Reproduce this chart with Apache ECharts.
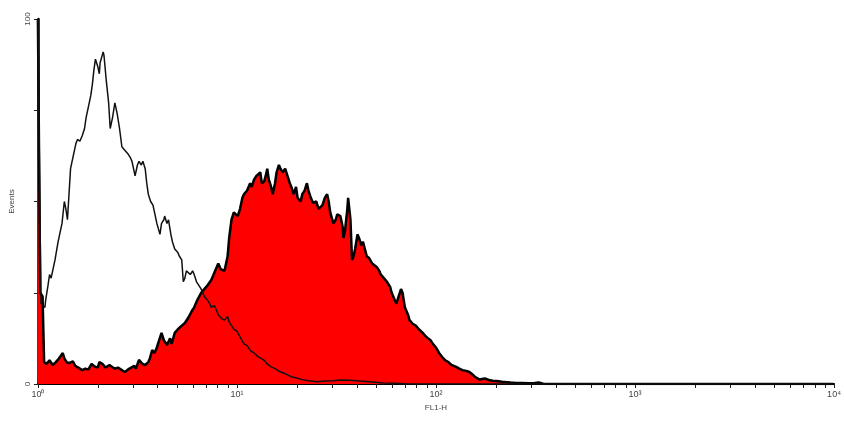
<!DOCTYPE html>
<html>
<head>
<meta charset="utf-8">
<script src="https://cdn.jsdelivr.net/npm/echarts@6/dist/echarts.min.js"></script>
<style>
  html, body { margin: 0; padding: 0; background: #fff; }
  #chart { width: 844px; height: 421px; }
</style>
</head>
<body>
<div id="chart"></div>
<script>
// FL1-H histogram, 1024 channels over 4 decades (256 channels / decade)
var decadeLabels = ['10\u2070', '10\u00b9', '10\u00b2', '10\u00b3', '10\u2074'];
var yTicks = [0, 25, 50, 75, 100];

// stained sample (red, filled)
var stainedCh = [0, 3, 6, 8, 11, 15, 19, 23, 27, 29, 32, 34, 37, 40, 45, 48, 52, 57, 61, 65, 69, 73, 77, 79, 83, 87, 92, 96, 99, 103,
  108, 112, 116, 120, 124, 126, 130, 134, 138, 142, 144, 147, 150, 153, 156, 159, 162, 166, 170, 172, 176, 180, 185, 189, 193, 198, 201, 205, 210, 214,
  218, 223, 226, 228, 232, 235, 237, 240, 244, 246, 249, 252, 257, 260, 263, 265, 269, 273, 275, 278, 281, 283, 286, 288, 291, 293, 295, 297, 300, 302,
  305, 307, 310, 312, 315, 318, 321, 324, 326, 329, 332, 334, 338, 340, 343, 346, 348, 351, 354, 358, 361, 363, 366, 369, 372, 374, 376, 380, 383, 385,
  389, 392, 393, 395, 398, 399, 402, 404, 406, 408, 411, 413, 416, 418, 423, 426, 430, 432, 436, 439, 441, 445, 449, 453, 455, 458, 461, 464, 467, 469,
  472, 476, 478, 482, 486, 490, 492, 495, 499, 502, 505, 508, 512, 516, 520, 524, 528, 532, 538, 542, 546, 551, 555, 559, 562, 568, 571, 575, 580, 585,
  590, 597, 603, 608, 615, 622, 631, 639, 644, 650, 657, 1023];
var stainedCount = [100, 25, 24, 6, 5.5, 6.5, 5.2, 6, 7, 6.5, 8.5, 7, 6, 5.7, 6.2, 5, 4.5, 3.8, 4.2, 4, 5.5, 4.8, 4.5, 6, 5.5, 4.5, 5.2, 4.6, 4.2, 4.5,
  3.8, 3.3, 4, 4.5, 5, 4.2, 6.6, 5.6, 5.2, 6, 7, 9.3, 8.5, 10, 12, 14, 12, 10.7, 12.5, 11, 14, 15, 16, 16.7, 18, 20, 21, 23, 25, 26,
  27, 28.5, 30, 31, 33, 31.5, 32, 31, 35, 40, 45, 47, 46, 48, 51, 52, 53, 55, 54, 56, 57, 56.5, 58, 55, 55.5, 57, 59, 56, 54, 52,
  55, 58, 60, 59, 58, 59, 57, 55, 54, 52, 54, 51, 50, 52, 53, 55, 53, 51, 49.6, 50, 48, 47.7, 49, 51, 52, 50, 47, 44, 45, 46.5,
  46, 43, 40, 42, 48, 51, 45, 34, 35, 37, 41, 40, 38, 39, 35, 34.5, 33, 33.5, 32, 31, 30, 29, 28, 26.6, 25, 23.5, 22, 24, 26, 25,
  21, 19, 17.5, 16.5, 16, 15, 14.5, 14, 13, 12.5, 12, 11, 10, 8.5, 7.4, 6.5, 6, 5.2, 4.7, 4.2, 3.8, 3.6, 3.3, 2.6, 2, 1.2, 1.4, 1.5, 1.1, 0.9,
  0.8, 0.6, 0.5, 0.4, 0.3, 0.3, 0.2, 0.3, 0.4, 0.1, 0, 0];

// control (open outline)
var controlCh = [0, 3, 4, 6, 9, 10, 13, 15, 17, 19, 22, 26, 28, 31, 34, 36, 38, 40, 42, 45, 47, 49, 51, 54, 57, 60, 62, 65, 68, 70,
  72, 74, 77, 79, 80, 84, 85, 88, 91, 93, 96, 99, 102, 105, 108, 112, 116, 119, 121, 123, 125, 128, 130, 133, 135, 138, 140, 142, 145, 148,
  150, 153, 157, 159, 162, 163, 166, 168, 171, 173, 176, 180, 182, 185, 187, 189, 191, 193, 196, 199, 201, 204, 207, 210, 214, 218, 221, 223, 227, 232,
  236, 240, 244, 246, 249, 252, 256, 261, 265, 269, 274, 278, 283, 287, 291, 295, 300, 305, 310, 316, 321, 326, 334, 340, 348, 359, 370, 380, 389, 402,
  414, 427, 444, 459, 478, 1023];
var controlCount = [100, 40, 22, 22, 21, 23, 27, 30, 29, 31, 34, 39, 41, 44, 50, 48, 45, 52, 59, 62, 64, 66, 67, 66.5, 68, 70, 73, 76, 79, 82,
  86, 89, 87, 85, 88, 91, 90, 83, 77, 70, 73, 77, 74, 70, 65, 64, 63, 62, 61, 59, 57, 60, 61, 60, 61, 59, 55, 52, 50, 49,
  47, 44, 41, 44, 45, 46, 44, 45, 41, 39, 37, 36, 35, 34, 28, 29, 31, 31, 30, 31, 30, 28, 27, 26, 24, 23, 22, 21, 21.5, 19,
  18, 17.5, 18.5, 17, 16, 15, 14.5, 12.5, 11, 10.5, 9, 8.5, 7.5, 7, 6.5, 5.5, 4.7, 4.2, 3.5, 3, 2.5, 2, 1.6, 1.2, 0.9, 0.6, 0.8, 0.9, 1.1, 1,
  0.8, 0.6, 0.3, 0.2, 0, 0];

function toPoints(ch, counts) {
  var out = [];
  for (var i = 0; i < ch.length; i++) {
    out.push([Math.pow(10, ch[i] / 256), counts[i]]);
  }
  return out;
}

var minorTicks = [];
for (var d = 0; d < 4; d++) {
  for (var m = 1; m < 10; m++) minorTicks.push(m * Math.pow(10, d));
}
minorTicks.push(10000);
var majorTicks = [1, 10, 100, 1000, 10000];

var chart = echarts.init(document.getElementById('chart'));
var labelFont = { fontFamily: 'Liberation Sans, Arial, sans-serif', fontSize: 8, color: '#444' };

var option = {
  backgroundColor: '#fff',
  animation: false,
  grid: { left: 35, right: 6, top: 19, bottom: 37 },
  xAxis: {
    type: 'log',
    logBase: 10,
    min: 1,
    max: 10000,
    name: 'FL1-H',
    nameLocation: 'middle',
    nameGap: 20,
    nameTextStyle: labelFont,
    axisLine: { lineStyle: { color: '#000', width: 2 } },
    axisTick: { show: true, length: 4, customValues: minorTicks, lineStyle: { color: '#222', width: 1 } },
    axisLabel: {
      customValues: majorTicks,
      margin: 6,
      fontFamily: labelFont.fontFamily, fontSize: 9, color: '#444',
      formatter: function (v) {
        return decadeLabels[Math.round(Math.log10(v))];
      }
    },
    splitLine: { show: false }
  },
  yAxis: {
    type: 'value',
    min: 0,
    max: 100,
    interval: 25,
    name: 'Events',
    nameLocation: 'middle',
    nameGap: 20,
    nameTextStyle: labelFont,
    axisLine: { show: true, lineStyle: { color: '#000', width: 2.5 } },
    axisTick: { show: true, length: 4, lineStyle: { color: '#222' } },
    axisLabel: {
      rotate: 90,
      margin: 6,
      fontFamily: labelFont.fontFamily, fontSize: 8, color: '#444',
      formatter: function (v) {
        return (v === yTicks[0] || v === yTicks[yTicks.length - 1]) ? String(v) : '';
      }
    },
    splitLine: { show: false }
  },
  series: [
    {
      name: 'stained',
      type: 'line',
      data: toPoints(stainedCh, stainedCount),
      showSymbol: false,
      clip: true,
      lineStyle: { color: '#000', width: 2.5 },
      areaStyle: { color: '#ff0000', opacity: 1 },
      z: 2
    },
    {
      name: 'control',
      type: 'line',
      data: toPoints(controlCh, controlCount),
      showSymbol: false,
      clip: true,
      lineStyle: { color: '#111', width: 1.5 },
      z: 3
    }
  ]
};
chart.setOption(option);
</script>
</body>
</html>
